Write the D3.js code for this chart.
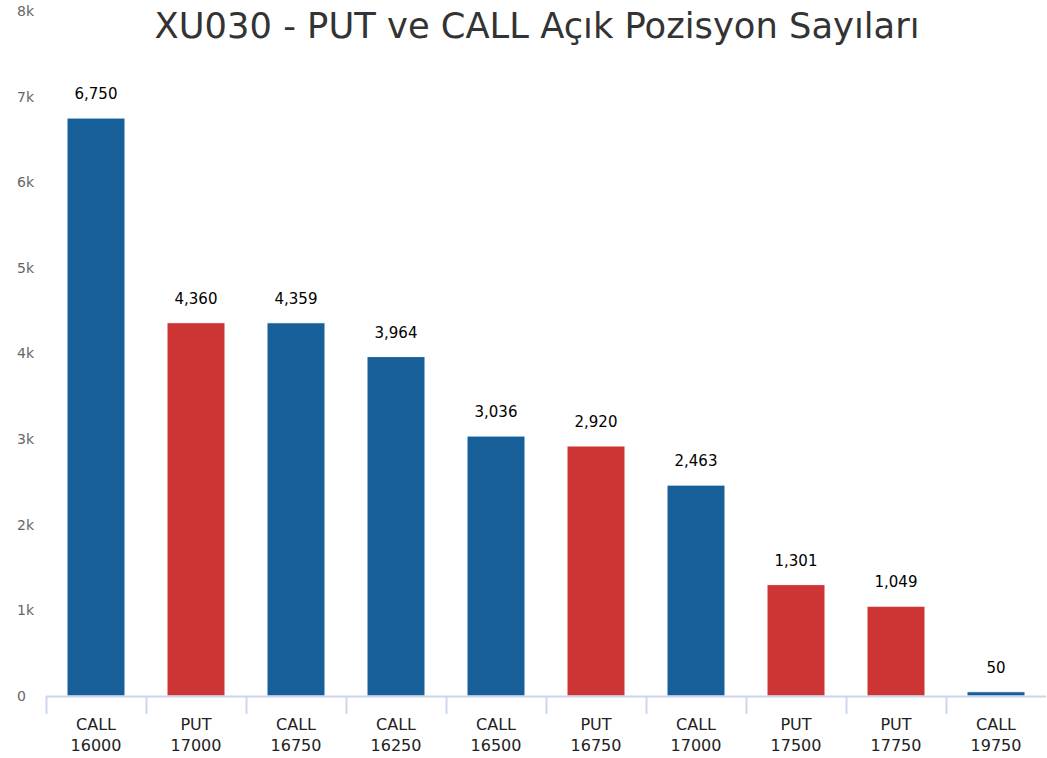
<!DOCTYPE html>
<html>
<head>
<meta charset="utf-8">
<script src="https://cdn.jsdelivr.net/npm/d3@7"></script>
<style>
  body { margin: 0; background: #fff; }
  text { font-family: "DejaVu Sans", Verdana, sans-serif; }
</style>
</head>
<body>
<script>
const types = ['CALL', 'PUT', 'CALL', 'CALL', 'CALL', 'PUT', 'CALL', 'PUT', 'PUT', 'CALL']
const strikes = ['16000', '17000', '16750', '16250', '16500', '16750', '17000', '17500', '17750', '19750']
const counts = [6750, 4360, 4359, 3964, 3036, 2920, 2463, 1301, 1049, 50]
const yTicks = [0, 1000, 2000, 3000, 4000, 5000, 6000, 7000, 8000]

const colors = { CALL: '#175f98', PUT: '#cd3434' }
const data = counts.map((v, i) => ({ key: i, type: types[i], strike: strikes[i], value: v }))

const width = 1047, height = 758
const margin = { top: 11, right: 1, bottom: 62, left: 46 }
const innerW = width - margin.left - margin.right
const innerH = height - margin.top - margin.bottom

const svg = d3.select('body').append('svg')
    .attr('width', width)
    .attr('height', height)

svg.append('text')
    .attr('x', 537)
    .attr('y', 38)
    .style('text-anchor', 'middle')
    .style('font-size', '35.3px')
    .style('fill', '#333')
    .text('XU030 - PUT ve CALL Açık Pozisyon Sayıları')

const g = svg.append('g')
    .attr('transform', `translate(${margin.left}, ${margin.top})`)

const xScale = d3.scaleBand()
    .domain(data.map(d => d.key))
    .range([0, innerW])
    .paddingInner(0.42)
    .paddingOuter(0.21)

const xTickScale = d3.scaleBand()
    .domain(data.map(d => d.key))
    .range([0, innerW])

const yScale = d3.scaleLinear()
    .domain([0, 8000])
    .range([innerH, 0])

// y labels
g.selectAll('.ylab')
    .data(yTicks)
    .enter().append('text')
    .attr('class', 'ylab')
    .attr('x', -29)
    .attr('y', d => yScale(d))
    .attr('dy', '0.35em')
    .style('font-size', '14px')
    .style('fill', '#666')
    .text(d => d === 0 ? '0' : (d / 1000) + 'k')

// bars
g.selectAll('.bar')
    .data(data)
    .enter().append('rect')
    .attr('class', 'bar')
    .attr('x', d => xScale(d.key))
    .attr('y', d => yScale(d.value))
    .attr('width', xScale.bandwidth())
    .attr('height', d => innerH - yScale(d.value))
    .style('fill', d => colors[d.type])
    .style('stroke', '#fff')
    .style('stroke-width', 1)

// value labels
g.selectAll('.vlab')
    .data(data)
    .enter().append('text')
    .attr('class', 'vlab')
    .attr('x', d => xScale(d.key) + xScale.bandwidth() / 2)
    .attr('y', d => yScale(d.value) - 19)
    .style('text-anchor', 'middle')
    .style('font-size', '15px')
    .style('fill', '#000')
    .text(d => d3.format(',')(d.value))

// x axis
const xAxis = g.append('g')
    .attr('transform', `translate(0, ${innerH})`)

xAxis.append('line')
    .attr('x1', 0).attr('x2', innerW)
    .attr('y1', 0.5).attr('y2', 0.5)
    .style('stroke', '#ccd6eb')
    .style('stroke-width', 2)

xAxis.selectAll('.tick')
    .data(data.map(d => d.key))
    .enter().append('line')
    .attr('x1', d => xTickScale(d) + 0.5)
    .attr('x2', d => xTickScale(d) + 0.5)
    .attr('y1', 0).attr('y2', 18)
    .style('stroke', '#ccd6eb')
    .style('stroke-width', 2)

const xl = xAxis.selectAll('.xlab')
    .data(data)
    .enter().append('text')
    .attr('class', 'xlab')
    .attr('x', d => xTickScale(d.key) + xTickScale.bandwidth() / 2)
    .style('text-anchor', 'middle')
    .style('font-size', '16px')
    .style('fill', '#222')
xl.append('tspan').attr('x', d => xTickScale(d.key) + xTickScale.bandwidth() / 2).attr('y', 34).text(d => d.type)
xl.append('tspan').attr('x', d => xTickScale(d.key) + xTickScale.bandwidth() / 2).attr('y', 55).text(d => d.strike)
</script>
</body>
</html>
